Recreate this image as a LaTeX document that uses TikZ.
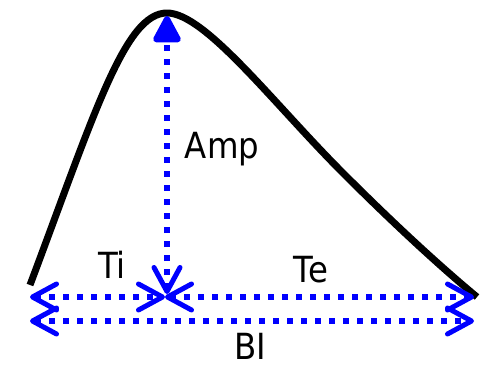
\documentclass[tikz,border=0pt]{standalone}
\usepackage{fontspec}
\setmainfont{DejaVu Sans}[FakeStretch=0.9]
\usepackage{tikz}
\usetikzlibrary{arrows.meta}

\begin{document}
\begin{tikzpicture}[
  x=1pt, y=-1pt,
  pulse/.style={line width=7pt, line join=round},
  barb/.tip={Straight Barb[length=24pt, width=26pt, line width=5pt, round]},
  dim/.style={blue, line width=6pt, dash pattern=on 6pt off 8pt, barb-barb},
  lbl/.style={font=\fontsize{36}{40}\selectfont, anchor=base, inner sep=0pt}
]
\useasboundingbox (0,0) rectangle (481,371);

\coordinate (L) at (30,297);
\coordinate (M) at (165,297);
\coordinate (R) at (474,297);
\coordinate (BL) at (30,321);
\coordinate (BR) at (474,321);
\coordinate (foot) at (167,294);
\coordinate (peak) at (167,16);

% the pulse
\draw[pulse] (30,285) .. controls (95,112) and (125,13) .. (167,13)
  .. controls (205,13) and (273,103) .. (343,173)
  .. controls (380,210) and (430,258) .. (477,297);

% dimensions
\draw[dim] (L) -- (M);
\draw[dim] (M) -- (R);
\draw[dim] (BL) -- (BR);
\draw[dim, barb-{Triangle[length=30pt, width=30pt, round]}] (foot) -- (peak);

\node[lbl] (amp) at (222,159) {Amp};
\node[lbl] (ti) at (112,278) {Ti};
\node[lbl] (te) at (311,282) {Te};
\node[lbl] (bi) at (250,359) {BI};
\end{tikzpicture}
\end{document}
